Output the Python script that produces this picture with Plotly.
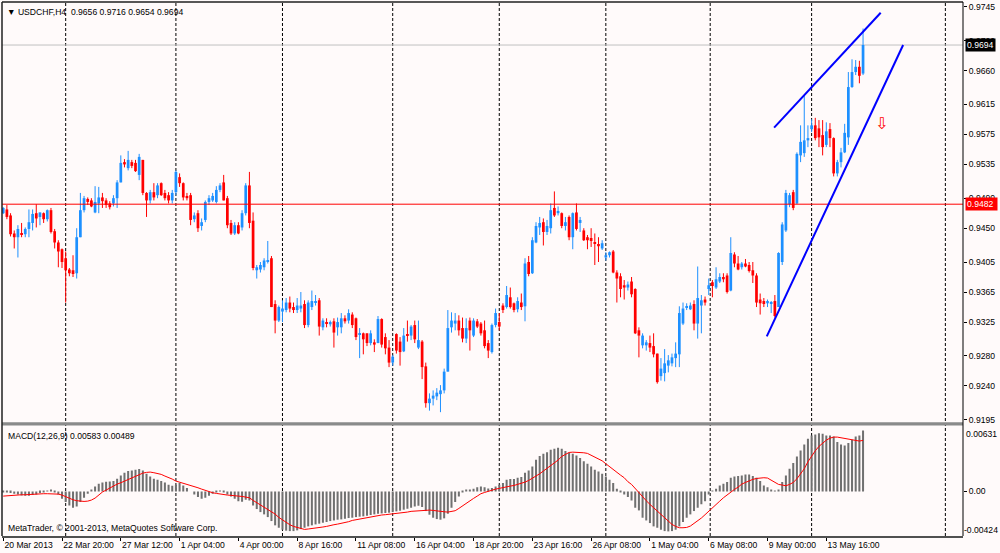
import plotly.graph_objects as go

# --- USDCHF H4 candles, prices in pips (value / 10000) ---
opens = [
    9470, 9475, 9467, 9443, 9438, 9443, 9442, 9449, 9457, 9470,
    9465, 9470, 9462, 9474, 9446, 9431, 9422, 9410, 9395, 9394,
    9390, 9438, 9474, 9489, 9487, 9471, 9483, 9491, 9487, 9483,
    9483, 9490, 9511, 9538, 9530, 9538, 9537, 9521, 9541, 9497,
    9487, 9498, 9494, 9510, 9497, 9494, 9487, 9498, 9518, 9510,
    9493, 9494, 9462, 9470, 9453, 9461, 9485, 9487, 9485, 9501,
    9511, 9490, 9457, 9443, 9454, 9451, 9470, 9507, 9460, 9394,
    9395, 9398, 9405, 9410, 9349, 9327, 9339, 9341, 9351, 9345,
    9341, 9343, 9349, 9321, 9345, 9351, 9354, 9318, 9325, 9322,
    9326, 9318, 9318, 9330, 9327, 9335, 9330, 9309, 9310, 9310,
    9297, 9298, 9297, 9329, 9305, 9291, 9271, 9309, 9299, 9286,
    9309, 9307, 9321, 9291, 9299, 9266, 9217, 9223, 9226, 9229,
    9234, 9259, 9318, 9323, 9327, 9317, 9303, 9327, 9307, 9326,
    9323, 9314, 9297, 9285, 9321, 9325, 9347, 9345, 9358, 9350,
    9342, 9351, 9346, 9405, 9390, 9431, 9451, 9458, 9445, 9450,
    9477, 9470, 9470, 9453, 9465, 9438, 9471, 9457, 9447, 9438,
    9437, 9431, 9429, 9423, 9411, 9414, 9419, 9391, 9386, 9374,
    9371, 9379, 9369, 9314, 9294, 9294, 9297, 9293, 9283, 9253,
    9257, 9267, 9270, 9277, 9282, 9323, 9345, 9342, 9349, 9323,
    9347, 9355, 9369, 9378, 9371, 9379, 9385, 9387, 9367, 9415,
    9403, 9398, 9403, 9401, 9394, 9387, 9355, 9353, 9350, 9350,
    9353, 9345, 9405, 9447, 9482, 9498, 9483, 9547, 9550, 9567,
    9582, 9587, 9583, 9574, 9561, 9582, 9570, 9523, 9538, 9551,
    9571, 9638, 9658, 9665, 9656,
]
highs = [
    9478, 9481, 9470, 9447, 9454, 9457, 9451, 9475, 9475, 9482,
    9471, 9471, 9475, 9477, 9449, 9434, 9423, 9419, 9397, 9414,
    9450, 9497, 9493, 9491, 9490, 9506, 9505, 9497, 9490, 9486,
    9494, 9514, 9547, 9542, 9553, 9541, 9541, 9549, 9541, 9498,
    9501, 9510, 9510, 9511, 9501, 9498, 9501, 9527, 9523, 9511,
    9497, 9497, 9471, 9474, 9463, 9487, 9494, 9497, 9506, 9510,
    9521, 9493, 9461, 9458, 9458, 9474, 9510, 9525, 9471, 9401,
    9405, 9410, 9433, 9413, 9354, 9347, 9354, 9357, 9359, 9351,
    9357, 9365, 9354, 9354, 9367, 9361, 9357, 9330, 9330, 9327,
    9330, 9331, 9337, 9334, 9342, 9338, 9331, 9317, 9311, 9310,
    9314, 9302, 9333, 9330, 9310, 9301, 9281, 9310, 9305, 9317,
    9327, 9321, 9327, 9327, 9301, 9271, 9230, 9234, 9237, 9241,
    9263, 9341, 9338, 9337, 9334, 9331, 9330, 9331, 9330, 9329,
    9325, 9327, 9301, 9323, 9343, 9337, 9350, 9373, 9371, 9351,
    9358, 9363, 9410, 9413, 9438, 9458, 9465, 9463, 9461, 9483,
    9499, 9479, 9471, 9465, 9467, 9471, 9483, 9465, 9450, 9441,
    9450, 9443, 9438, 9434, 9418, 9419, 9421, 9394, 9390, 9381,
    9379, 9385, 9370, 9318, 9310, 9301, 9307, 9310, 9283, 9277,
    9289, 9281, 9283, 9298, 9346, 9351, 9350, 9351, 9354, 9399,
    9361, 9359, 9383, 9381, 9398, 9390, 9390, 9390, 9438, 9418,
    9413, 9405, 9409, 9405, 9405, 9390, 9363, 9357, 9355, 9353,
    9361, 9418, 9458, 9501, 9497, 9501, 9551, 9587, 9627, 9587,
    9595, 9597, 9594, 9594, 9591, 9590, 9571, 9541, 9557, 9589,
    9658, 9675, 9674, 9673, 9716,
]
lows = [
    9469, 9462, 9439, 9423, 9411, 9438, 9438, 9438, 9447, 9451,
    9454, 9457, 9459, 9443, 9423, 9398, 9397, 9351, 9386, 9385,
    9383, 9438, 9471, 9481, 9478, 9470, 9470, 9477, 9477, 9475,
    9479, 9477, 9511, 9531, 9527, 9530, 9525, 9514, 9494, 9465,
    9483, 9487, 9490, 9493, 9487, 9483, 9483, 9494, 9505, 9487,
    9487, 9454, 9458, 9445, 9447, 9458, 9481, 9485, 9483, 9498,
    9487, 9450, 9441, 9441, 9442, 9447, 9467, 9450, 9394, 9383,
    9391, 9394, 9403, 9345, 9310, 9325, 9325, 9338, 9338, 9337,
    9337, 9338, 9317, 9318, 9341, 9347, 9307, 9314, 9318, 9319,
    9291, 9307, 9310, 9323, 9323, 9317, 9301, 9277, 9282, 9293,
    9294, 9285, 9297, 9291, 9282, 9265, 9267, 9283, 9267, 9285,
    9299, 9301, 9297, 9289, 9249, 9211, 9207, 9214, 9221, 9205,
    9230, 9259, 9311, 9314, 9307, 9298, 9297, 9287, 9305, 9317,
    9307, 9290, 9277, 9283, 9318, 9314, 9337, 9343, 9343, 9338,
    9338, 9341, 9326, 9386, 9389, 9430, 9441, 9427, 9441, 9443,
    9465, 9467, 9450, 9447, 9434, 9422, 9447, 9445, 9433, 9422,
    9425, 9401, 9405, 9421, 9407, 9411, 9390, 9351, 9358, 9355,
    9367, 9358, 9309, 9278, 9290, 9287, 9285, 9278, 9243, 9247,
    9246, 9258, 9266, 9265, 9265, 9321, 9341, 9341, 9314, 9303,
    9310, 9347, 9361, 9358, 9369, 9377, 9378, 9363, 9366, 9398,
    9394, 9395, 9398, 9391, 9377, 9345, 9335, 9345, 9345, 9337,
    9331, 9345, 9401, 9445, 9478, 9474, 9482, 9538, 9545, 9558,
    9578, 9567, 9558, 9547, 9558, 9558, 9519, 9519, 9531, 9550,
    9561, 9637, 9654, 9643, 9654,
]
closes = [
    9477, 9465, 9442, 9438, 9449, 9441, 9449, 9458, 9469, 9463,
    9471, 9462, 9474, 9445, 9431, 9419, 9405, 9394, 9390, 9389,
    9438, 9474, 9490, 9485, 9479, 9485, 9491, 9486, 9481, 9478,
    9490, 9511, 9537, 9535, 9541, 9533, 9526, 9545, 9497, 9487,
    9498, 9491, 9507, 9494, 9490, 9487, 9497, 9525, 9510, 9491,
    9490, 9461, 9467, 9450, 9458, 9485, 9490, 9493, 9501, 9507,
    9487, 9454, 9443, 9454, 9443, 9470, 9507, 9457, 9397, 9398,
    9401, 9407, 9407, 9345, 9327, 9345, 9343, 9351, 9343, 9341,
    9347, 9347, 9321, 9351, 9353, 9353, 9319, 9327, 9323, 9325,
    9311, 9325, 9330, 9326, 9337, 9321, 9305, 9310, 9302, 9297,
    9310, 9295, 9329, 9295, 9290, 9271, 9279, 9287, 9285, 9307,
    9307, 9319, 9302, 9301, 9265, 9217, 9223, 9227, 9231, 9234,
    9259, 9317, 9327, 9327, 9314, 9303, 9317, 9314, 9327, 9319,
    9310, 9293, 9287, 9321, 9337, 9319, 9341, 9361, 9345, 9341,
    9353, 9345, 9403, 9389, 9434, 9453, 9457, 9445, 9453, 9474,
    9467, 9473, 9453, 9458, 9438, 9470, 9449, 9461, 9434, 9434,
    9433, 9429, 9426, 9430, 9414, 9418, 9391, 9383, 9369, 9371,
    9375, 9362, 9310, 9307, 9307, 9298, 9291, 9282, 9245, 9263,
    9270, 9274, 9278, 9283, 9337, 9343, 9346, 9347, 9323, 9357,
    9354, 9351, 9374, 9373, 9382, 9385, 9382, 9365, 9417, 9403,
    9395, 9403, 9399, 9393, 9387, 9351, 9350, 9349, 9353, 9351,
    9333, 9417, 9455, 9497, 9494, 9477, 9549, 9565, 9567, 9570,
    9587, 9570, 9571, 9558, 9579, 9570, 9523, 9538, 9551, 9577,
    9638, 9658, 9665, 9653, 9694,
]

# --- MACD(12,26,9), values in 1e-5 ---
macd_hist = [
    -6, -10, -16, -22, -29, -38, -41, -41, -35, -29,
    -16, -6, 3, 10, -6, -29, -70, -102, -134, -156,
    -144, -102, -61, -22, 10, 48, 73, 86, 93, 96,
    99, 121, 153, 179, 195, 201, 207, 214, 201, 169,
    144, 121, 112, 99, 86, 64, 54, 64, 80, 57,
    32, 0, -29, -54, -70, -61, -41, -22, -6, -1,
    -6, -29, -48, -70, -93, -99, -80, -86, -134, -169,
    -198, -220, -246, -284, -325, -348, -367, -376, -380, -380,
    -373, -361, -348, -335, -325, -316, -309, -300, -293, -284,
    -278, -271, -268, -262, -255, -252, -246, -242, -239, -233,
    -226, -220, -214, -211, -207, -204, -198, -191, -185, -175,
    -166, -156, -144, -137, -150, -188, -223, -252, -265, -271,
    -258, -214, -156, -102, -48, -6, 10, 19, 26, 41,
    48, 41, 29, 32, 48, 64, 80, 112, 118, 118,
    131, 137, 179, 201, 239, 303, 338, 360, 376, 399,
    408, 418, 408, 386, 370, 360, 345, 319, 290, 265,
    239, 207, 191, 169, 144, 112, 80, 26, -6, -29,
    -54, -86, -156, -182, -252, -278, -303, -335, -348, -367,
    -380, -383, -380, -367, -335, -293, -252, -220, -188, -156,
    -124, -93, -29, 3, 26, 57, 73, 89, 131, 144,
    147, 153, 163, 163, 147, 131, 99, 57, 41, 16,
    3, 16, 89, 153, 217, 271, 335, 392, 450, 504,
    536, 545, 558, 552, 536, 536, 526, 472, 450, 440,
    463, 494, 526, 536, 583,
]
macd_signal = [
    -45, -41, -38, -35, -35, -32, -32, -29, -29, -26,
    -26, -22, -22, -22, -22, -26, -35, -51, -67, -80,
    -89, -93, -96, -93, -83, -64, -32, -6, 13, 32,
    54, 70, 83, 99, 112, 128, 140, 160, 175, 182,
    185, 179, 172, 163, 147, 134, 118, 99, 89, 80,
    70, 57, 45, 35, 22, 10, -3, -13, -19, -26,
    -29, -35, -38, -38, -45, -48, -51, -61, -86, -108,
    -124, -144, -166, -191, -217, -249, -274, -300, -319, -335,
    -345, -357, -364, -360, -357, -354, -348, -341, -335, -325,
    -319, -313, -306, -300, -290, -278, -271, -265, -258, -249,
    -242, -236, -233, -226, -223, -220, -217, -211, -207, -201,
    -198, -191, -188, -182, -179, -175, -179, -182, -188, -191,
    -195, -198, -191, -185, -163, -137, -112, -89, -67, -45,
    -22, -10, 3, 13, 22, 29, 38, 45, 51, 57,
    67, 77, 89, 105, 124, 147, 169, 195, 220, 246,
    274, 300, 335, 357, 373, 376, 376, 373, 370, 364,
    348, 332, 313, 293, 265, 236, 207, 182, 156, 131,
    93, 67, 26, -13, -51, -89, -124, -156, -188, -220,
    -258, -290, -316, -335, -348, -348, -345, -332, -309, -284,
    -255, -223, -188, -156, -124, -93, -61, -32, -3, 19,
    41, 70, 86, 102, 115, 124, 131, 131, 128, 105,
    86, 67, 61, 54, 67, 86, 121, 169, 217, 284,
    338, 389, 431, 463, 491, 510, 520, 520, 514, 504,
    498, 491, 485, 482, 489,
]

# time axis labels (every 16 bars)
time_ticks = [0, 16, 32, 48, 64, 80, 96, 112, 128, 144, 160, 176, 192, 208, 224]
time_labels = ["20 Mar 2013", "22 Mar 20:00", "27 Mar 12:00", "1 Apr 04:00", "4 Apr 00:00",
               "8 Apr 16:00", "11 Apr 08:00", "16 Apr 04:00", "18 Apr 20:00", "23 Apr 16:00",
               "26 Apr 08:00", "1 May 04:00", "6 May 08:00", "9 May 00:00", "13 May 16:00"]
# weekly period separators (bar positions)
week_seps = [17, 47, 76, 106, 135, 164, 192.4, 220, 256.4]
price_ticks = [0.9745, 0.9700, 0.9660, 0.9615, 0.9575, 0.9535, 0.9490,
               0.9450, 0.9405, 0.9365, 0.9325, 0.9280, 0.9240, 0.9195]
bid_price = 0.9694
level_price = 0.9482
# hand-drawn channel lines and arrow (bar, price)
upper_line = ([209.8, 238.8], [0.9584, 0.9737])
lower_line = ([207.8, 244.9], [0.9306, 0.9694])
arrow_pos = (238.9, 0.9590)

assert len(opens) == len(highs) == len(lows) == len(closes) == len(macd_hist) == len(macd_signal) == 235

BLUE = "#1E90FF"
RED = "#FF0000"
BG = "#FFFAFA"
FONT = "Liberation Sans"

o = [v / 10000 for v in opens]
h = [v / 10000 for v in highs]
l = [v / 10000 for v in lows]
c = [v / 10000 for v in closes]
bars = list(range(len(o)))
up = [i for i in bars if c[i] >= o[i]]
dn = [i for i in bars if c[i] < o[i]]

fig = go.Figure()

for sel, col in ((up, BLUE), (dn, RED)):
    wx, wy = [], []
    for i in sel:
        wx += [i, i, None]
        wy += [l[i], h[i], None]
    fig.add_trace(go.Scatter(x=wx, y=wy, mode="lines", line=dict(color=col, width=1),
                             xaxis="x", yaxis="y2", hoverinfo="skip", showlegend=False))
    fig.add_trace(go.Bar(x=sel, y=[max(abs(c[i] - o[i]), 0.00007) for i in sel],
                         base=[min(o[i], c[i]) for i in sel], width=0.74,
                         marker=dict(color=col, line=dict(width=0)),
                         xaxis="x", yaxis="y2", showlegend=False))

fig.add_trace(go.Bar(x=bars, y=[v / 100000 for v in macd_hist], width=0.55,
                     marker=dict(color="#707070", line=dict(width=0)),
                     xaxis="x", yaxis="y", showlegend=False))
fig.add_trace(go.Scatter(x=bars, y=[v / 100000 for v in macd_signal], mode="lines",
                         line=dict(color=RED, width=1), xaxis="x", yaxis="y", showlegend=False))

shapes = []
for s in week_seps:
    shapes.append(dict(type="line", xref="x", yref="paper", x0=s, x1=s, y0=0, y1=1,
                       line=dict(color="black", width=1, dash="3px,2px"), layer="below"))
shapes.append(dict(type="line", xref="paper", yref="y2", x0=0, x1=1, y0=bid_price, y1=bid_price,
                   line=dict(color="#C0C0C0", width=1), layer="below"))
shapes.append(dict(type="line", xref="paper", yref="y2", x0=0, x1=1, y0=level_price, y1=level_price,
                   line=dict(color=RED, width=1)))
for xs, ys in (upper_line, lower_line):
    shapes.append(dict(type="line", xref="x", yref="y2", x0=xs[0], x1=xs[1], y0=ys[0], y1=ys[1],
                       line=dict(color="#0000FF", width=2)))
# panel separator and frame
shapes.append(dict(type="rect", xref="paper", yref="paper", x0=0, x1=1, y0=0.2069, y1=0.2129,
                   fillcolor="#8A8A8A", line=dict(width=0)))
shapes.append(dict(type="line", xref="paper", yref="paper", x0=0, x1=0, y0=0, y1=1,
                   line=dict(color="#202020", width=1.5)))
shapes.append(dict(type="line", xref="paper", yref="paper", x0=0, x1=1, y0=1, y1=1,
                   line=dict(color="#202020", width=1.5)))
shapes.append(dict(type="line", xref="paper", yref="paper", x0=1, x1=1, y0=0, y1=1,
                   line=dict(color="black", width=1)))

small = dict(family=FONT, size=8.6, color="black")
annotations = [
    dict(xref="paper", yref="paper", x=0, y=1, xanchor="left", yanchor="top", xshift=3, yshift=-3,
         text="▼ USDCHF,H4  0.9656 0.9716 0.9654 0.9694", showarrow=False, font=small),
    dict(xref="paper", yref="paper", x=0, y=0.2069, xanchor="left", yanchor="top", xshift=4, yshift=-3,
         text="MACD(12,26,9) 0.00583 0.00489", showarrow=False, font=small),
    dict(xref="paper", yref="paper", x=0, y=0, xanchor="left", yanchor="bottom", xshift=4, yshift=1,
         text="MetaTrader, © 2001-2013, MetaQuotes Software Corp.", showarrow=False, font=small),
    dict(xref="paper", yref="y", x=1, y=0.00631, xanchor="left", yanchor="top", xshift=1, yshift=-1,
         text="0.00631", showarrow=False, font=small),
    dict(xref="paper", yref="y", x=1, y=-0.00424, xanchor="left", yanchor="bottom", xshift=0, yshift=0,
         text="-0.00424", showarrow=False, font=small, borderpad=0),
    dict(xref="paper", yref="y2", x=1, y=bid_price, xanchor="left", yanchor="middle", xshift=2,
         text="0.9694", showarrow=False, font=dict(family=FONT, size=8.6, color="white"),
         bgcolor="black", borderpad=1),
    dict(xref="paper", yref="y2", x=1, y=level_price, xanchor="left", yanchor="middle", xshift=2,
         text="0.9482 ", showarrow=False, font=dict(family=FONT, size=8.6, color="white"),
         bgcolor=RED, borderpad=1),
    dict(xref="x", yref="y2", x=arrow_pos[0], y=arrow_pos[1], text="⇩", showarrow=False,
         font=dict(family="DejaVu Sans", size=16, color=RED)),
]

fig.update_layout(
    width=1000, height=553,
    margin=dict(l=2, r=37, t=2, b=17, autoexpand=False),
    paper_bgcolor=BG, plot_bgcolor=BG,
    barmode="overlay", showlegend=False,
    font=small,
    xaxis=dict(domain=[0, 1], range=[-0.33, 261.2], anchor="y",
               tickvals=time_ticks, ticktext=time_labels, ticks="outside", ticklen=3,
               tickcolor="black", ticklabelposition="outside right", tickangle=0,
               automargin=False, showgrid=False, zeroline=False, showline=True,
               linecolor="#505050", linewidth=1.5, tickfont=small),
    yaxis=dict(domain=[0, 0.2069], range=[-0.00427, 0.00631], anchor="x", side="right",
               tickvals=[0], ticktext=["0.00"], ticks="outside", ticklen=3, tickcolor="black",
               automargin=False, showgrid=False, zeroline=False, showline=False, tickfont=small),
    yaxis2=dict(domain=[0.2135, 1], range=[0.91919, 0.97513], anchor="x", side="right",
                tickvals=price_ticks, ticktext=[f"{p:.4f}" for p in price_ticks],
                ticks="outside", ticklen=3, tickcolor="black", automargin=False,
                showgrid=False, zeroline=False, showline=False, tickfont=small),
    shapes=shapes, annotations=annotations,
)

fig.write_html("out.html", config={"displayModeBar": False},
               post_script="document.body.style.margin='0px';")
